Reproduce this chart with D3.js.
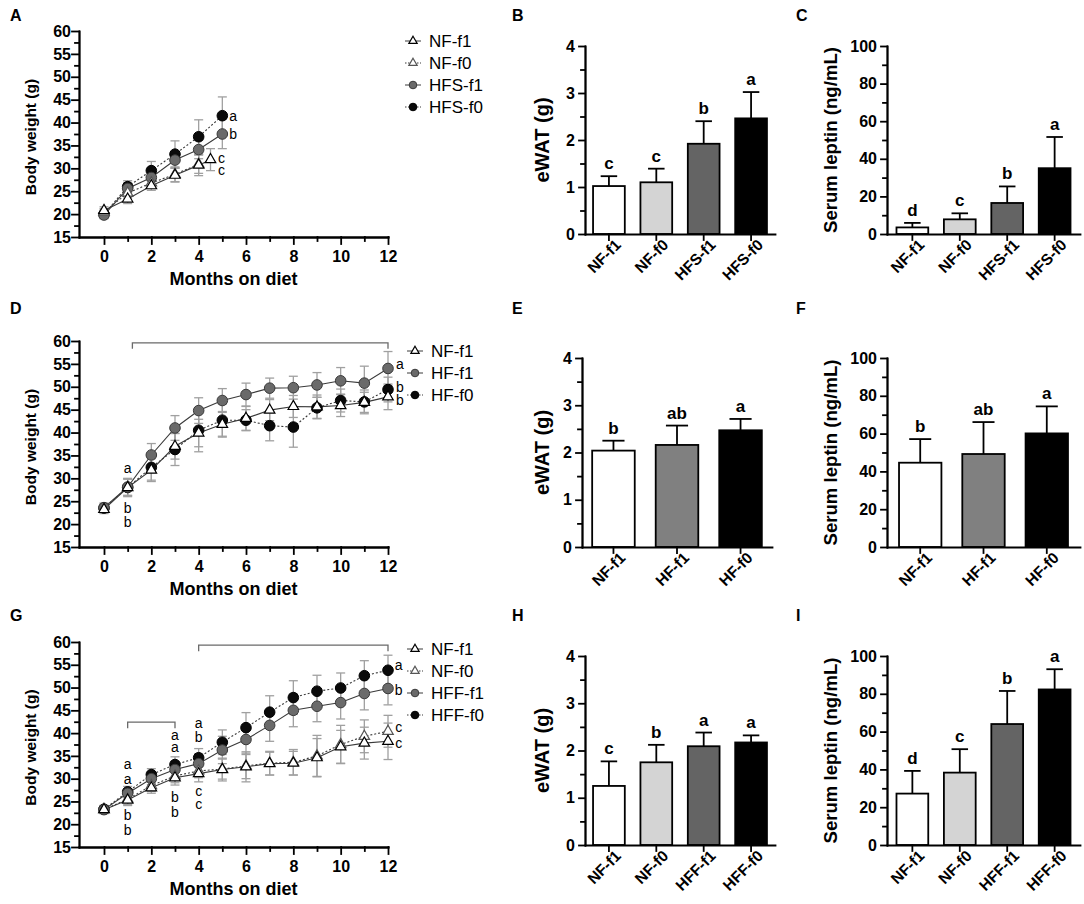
<!DOCTYPE html>
<html>
<head>
<meta charset="utf-8">
<script src="https://cdn.jsdelivr.net/npm/d3@7"></script>
<style>
body { margin: 0; background: #fff; }
svg text { font-family: "Liberation Sans", Arial, sans-serif; fill: #000; }
</style>
</head>
<body>
<script>
// ---------- data ----------
const monthsFull = [0, 1, 2, 3, 4, 5, 6, 7, 8, 9, 10, 11, 12];
const monthsA = [0, 1, 2, 3, 4, 5];
const monthsA_NF1 = [0, 1, 2, 3, 4, 4.5];
const monthsA_NF0 = [0, 1, 2, 3, 4];

// panel A (HFS study)
const aNF1 = [20.8, 23.3, 26.2, 28.5, 30.7, 31.9];
const aNF1Sd = [0.8, 1.0, 1.0, 1.5, 2.3, 2.4];
const aNF0 = [20.5, 24.6, 26.8, 28.7, 30.9];
const aNF0Sd = [0.7, 1.1, 1.0, 1.6, 2.0];
const aHFS1 = [19.8, 25.6, 28.0, 31.8, 34.1, 37.5];
const aHFS1Sd = [0.8, 1.3, 1.7, 1.8, 2.0, 3.2];
const aHFS0 = [20.0, 26.0, 29.5, 33.1, 36.9, 41.5];
const aHFS0Sd = [0.9, 1.3, 2.0, 2.9, 3.7, 4.1];

// panel D (HF study)
const dNF1 = [23.2, 28.0, 31.8, 37.0, 39.9, 41.8, 43.1, 44.9, 45.7, 45.6, 45.9, 46.6, 47.8];
const dNF1Sd = [0.9, 2.0, 2.5, 2.8, 3.0, 2.8, 2.6, 2.3, 2.4, 2.6, 2.4, 2.2, 2.8];
const dHF1 = [23.6, 28.1, 35.1, 41.0, 44.8, 47.0, 48.3, 49.7, 49.8, 50.4, 51.3, 50.8, 54.0];
const dHF1Sd = [1.0, 1.8, 2.5, 2.7, 2.8, 2.6, 2.5, 2.2, 2.5, 2.7, 2.9, 3.7, 3.7];
const dHF0 = [23.5, 28.0, 32.4, 36.3, 40.5, 42.7, 42.7, 41.5, 41.2, 45.4, 47.0, 46.7, 49.4];
const dHF0Sd = [1.0, 1.8, 2.8, 3.5, 4.7, 3.5, 2.3, 3.3, 4.4, 2.3, 2.5, 2.6, 2.7];

// panel G (HFF study)
const gNF1 = [23.2, 25.3, 28.0, 30.2, 31.1, 32.0, 32.6, 33.3, 33.4, 34.6, 37.0, 37.8, 38.2];
const gNF1Sd = [0.8, 1.2, 1.2, 1.6, 1.8, 2.5, 3.3, 2.5, 2.6, 4.2, 3.6, 3.5, 4.0];
const gNF0 = [23.2, 25.5, 28.5, 30.6, 31.7, 32.1, 32.8, 33.4, 33.6, 35.0, 37.5, 39.3, 40.4];
const gNF0Sd = [0.9, 1.2, 1.3, 1.5, 1.5, 2.2, 2.8, 2.6, 2.8, 4.5, 4.2, 3.6, 3.5];
const gHFF1 = [23.2, 26.8, 30.0, 32.0, 33.3, 36.3, 38.6, 41.7, 45.0, 45.9, 46.7, 48.7, 49.8];
const gHFF1Sd = [0.8, 1.0, 1.3, 1.8, 2.2, 3.0, 3.3, 3.5, 3.6, 3.4, 3.6, 3.6, 3.6];
const gHFF0 = [23.3, 27.1, 30.9, 33.1, 34.6, 38.0, 41.2, 44.6, 47.8, 49.2, 49.9, 52.6, 53.8];
const gHFF0Sd = [0.8, 1.2, 1.3, 1.7, 2.0, 2.7, 3.3, 3.6, 3.7, 3.5, 3.3, 3.3, 3.3];

// significance letters on the line charts: [month, grams, letter]
const aLetters = [[5.46, 41.5, "a"], [5.46, 37.5, "b"], [4.97, 32.3, "c"], [4.97, 29.6, "c"]];
const dLetters = [[1, 32.3, "a"], [1, 23.6, "b"], [1, 20.4, "b"],
  [12.5, 54.9, "a"], [12.5, 49.9, "b"], [12.5, 47.1, "b"]];
const gLetters = [[1, 33.1, "a"], [1, 29.9, "a"], [1, 22.0, "b"], [1, 18.8, "b"],
  [3, 39.5, "a"], [3, 37.0, "a"], [3, 26.0, "b"], [3, 22.7, "b"],
  [4, 42.2, "a"], [4, 39.1, "b"], [4, 27.3, "c"], [4, 24.4, "c"],
  [12.45, 54.9, "a"], [12.45, 49.5, "b"], [12.45, 41.3, "c"], [12.45, 37.8, "c"]];

// brackets: [from month, to month, grams]
const dBrackets = [[1.2, 12, 59.6]];
const gBrackets = [[4, 12, 59.3], [1, 3, 42.4]];

// bar charts
const catsHFS = ["NF-f1", "NF-f0", "HFS-f1", "HFS-f0"];
const catsHF = ["NF-f1", "HF-f1", "HF-f0"];
const catsHFF = ["NF-f1", "NF-f0", "HFF-f1", "HFF-f0"];

const bMean = [1.02, 1.10, 1.92, 2.46], bSd = [0.21, 0.29, 0.48, 0.56], bLet = ["c", "c", "b", "a"];
const cMean = [3.5, 7.8, 16.5, 35.0], cSd = [2.4, 3.2, 8.8, 16.6], cLet = ["d", "c", "b", "a"];
const eMean = [2.04, 2.16, 2.47], eSd = [0.21, 0.41, 0.24], eLet = ["b", "ab", "a"];
const fMean = [44.6, 49.2, 60.1], fSd = [12.5, 16.9, 14.3], fLet = ["b", "ab", "a"];
const hMean = [1.25, 1.75, 2.09, 2.17], hSd = [0.52, 0.37, 0.29, 0.15], hLet = ["c", "b", "a", "a"];
const iMean = [27.2, 38.3, 64.0, 82.3], iSd = [12.0, 12.4, 17.5, 10.7], iLet = ["d", "c", "b", "a"];

// ---------- styles ----------
const markerStyle = {
  tri1: {shape: "tri", fill: "#fff", stroke: "#000"},
  tri0: {shape: "tri", fill: "#fff", stroke: "#555"},
  gray: {shape: "circle", fill: "#6a6a6a", stroke: "#3a3a3a"},
  black: {shape: "circle", fill: "#0a0a0a", stroke: "#000"}
};
const fillsFour = ["#ffffff", "#d4d4d4", "#646464", "#000000"];
const fillsThree = ["#ffffff", "#808080", "#000000"];

const svg = d3.select("body").append("svg")
  .attr("width", 1084)
  .attr("height", 904);

function styleAxis(sel, size) {
  sel.selectAll("path, line").attr("stroke", "#000").attr("stroke-width", 1.8)
    .attr("stroke-linecap", "square");
  sel.selectAll("text").attr("font-size", size || 16).attr("font-weight", "bold");
}

function drawMarker(sel, kind, big) {
  const st = markerStyle[kind];
  if (st.shape === "tri") {
    sel.append("path")
      .attr("d", d3.symbol().type(d3.symbolTriangle).size(big ? 48 : 30)())
      .attr("fill", st.fill).attr("stroke", st.stroke).attr("stroke-width", 1.2);
  } else {
    sel.append("circle").attr("r", big ? 5.3 : 3.8)
      .attr("fill", st.fill).attr("stroke", st.stroke).attr("stroke-width", 1);
  }
}

function panelLabel(txt, x, y) {
  svg.append("text").attr("x", x).attr("y", y)
    .attr("font-size", 16).attr("font-weight", "bold").text(txt);
}

function lineChart(box, series, legend, letters, brackets) {
  const x = d3.scaleLinear().domain([-1.056, 12]).range([box.left, box.right]);
  const y = d3.scaleLinear().domain([15, 60]).range([box.bottom, box.top]);
  const g = svg.append("g");

  // error bars
  series.forEach(s => {
    const pts = s.x.map((m, i) => ({m: m, v: s.y[i], sd: s.sd[i]}));
    const eb = g.append("g").attr("stroke", "#a0a0a0").attr("stroke-width", 1.3);
    eb.selectAll(".v").data(pts).join("line")
      .attr("x1", d => x(d.m)).attr("x2", d => x(d.m))
      .attr("y1", d => y(d.v - d.sd)).attr("y2", d => y(d.v + d.sd));
    eb.selectAll(".t").data(pts.concat(pts.map(d => ({m: d.m, v: d.v, sd: -d.sd})))).join("line")
      .attr("x1", d => x(d.m) - 4.5).attr("x2", d => x(d.m) + 4.5)
      .attr("y1", d => y(d.v + d.sd)).attr("y2", d => y(d.v + d.sd));
  });

  // lines
  const line = d3.line().x(d => x(d[0])).y(d => y(d[1]));
  series.forEach(s => {
    g.append("path")
      .datum(s.x.map((m, i) => [m, s.y[i]]))
      .attr("d", line)
      .attr("fill", "none")
      .attr("stroke", "#3a3a3a")
      .attr("stroke-width", 1.1)
      .attr("stroke-dasharray", s.dotted ? "2,2" : null);
  });

  // markers
  series.forEach(s => {
    s.x.forEach((m, i) => {
      const mk = g.append("g").attr("transform", `translate(${x(m)},${y(s.y[i])})`);
      drawMarker(mk, s.kind, true);
    });
  });

  // axes
  const xa = g.append("g").attr("transform", `translate(0,${box.bottom})`);
  xa.call(d3.axisBottom(x).tickValues(d3.range(1, 12, 2)).tickSize(4).tickFormat("").tickSizeOuter(0));
  const xb = g.append("g").attr("transform", `translate(0,${box.bottom})`);
  xb.call(d3.axisBottom(x).tickValues(d3.range(0, 13, 2)).tickSize(7).tickSizeOuter(0));
  xb.selectAll("text").attr("y", 14);
  styleAxis(xa); styleAxis(xb);

  const ya = g.append("g").attr("transform", `translate(${box.left},0)`);
  ya.call(d3.axisLeft(y).tickValues(d3.range(17.5, 60, 5)).tickSize(4).tickFormat("").tickSizeOuter(0));
  const yb = g.append("g").attr("transform", `translate(${box.left},0)`);
  yb.call(d3.axisLeft(y).tickValues(d3.range(15, 61, 5)).tickSize(7).tickSizeOuter(0));
  yb.selectAll("text").attr("x", -8);
  styleAxis(ya); styleAxis(yb);

  g.append("text")
    .attr("x", (box.left + box.right) / 2).attr("y", box.bottom + 48)
    .attr("text-anchor", "middle").attr("font-size", 18).attr("font-weight", "bold")
    .text("Months on diet");
  g.append("text")
    .attr("transform", `translate(30.5,${(box.top + box.bottom) / 2 + 3}) rotate(-90)`)
    .attr("dy", "0.35em")
    .attr("text-anchor", "middle").attr("font-size", 15.5).attr("font-weight", "bold")
    .text("Body weight (g)");

  // letters
  g.selectAll(".let").data(letters).join("text")
    .attr("x", d => x(d[0])).attr("y", d => y(d[1]))
    .attr("dy", "0.35em").attr("text-anchor", "middle").attr("font-size", 14)
    .text(d => d[2]);

  // brackets
  brackets.forEach(b => {
    const p = d3.path();
    p.moveTo(x(b[0]), y(b[2]) + 6);
    p.lineTo(x(b[0]), y(b[2]));
    p.lineTo(x(b[1]), y(b[2]));
    p.lineTo(x(b[1]), y(b[2]) + 6);
    g.append("path").attr("d", p.toString()).attr("fill", "none")
      .attr("stroke", "#6a6a6a").attr("stroke-width", 1.3);
  });

  // legend
  legend.items.forEach((it, i) => {
    const ly = legend.ys[i];
    const lg = g.append("g").attr("transform", `translate(${legend.x},${ly})`);
    lg.append("line").attr("x1", -8).attr("x2", 8)
      .attr("stroke", "#3a3a3a").attr("stroke-width", 1)
      .attr("stroke-dasharray", it.dotted ? "1.5,1.5" : null);
    drawMarker(lg, it.kind, false);
    lg.append("text").attr("x", 16).attr("dy", "0.36em")
      .attr("font-size", 17).text(it.name);
  });
}

function barChart(box, cats, means, sds, letters, fills) {
  const x = d3.scaleBand().domain(cats).range([box.left, box.right])
    .paddingInner(0.33).paddingOuter(box.outer);
  const y = d3.scaleLinear().domain([0, box.max]).range([box.bottom, box.top]);
  const g = svg.append("g");
  const rows = cats.map((c, i) => ({c: c, m: means[i], sd: sds[i], l: letters[i], f: fills[i]}));
  const bw = x.bandwidth();

  // error bars (upper only)
  g.selectAll(".ev").data(rows).join("line")
    .attr("x1", d => x(d.c) + bw / 2).attr("x2", d => x(d.c) + bw / 2)
    .attr("y1", d => y(d.m)).attr("y2", d => y(d.m + d.sd))
    .attr("stroke", "#000").attr("stroke-width", 1.8);
  g.selectAll(".ec").data(rows).join("line")
    .attr("x1", d => x(d.c) + bw * 0.24).attr("x2", d => x(d.c) + bw * 0.76)
    .attr("y1", d => y(d.m + d.sd)).attr("y2", d => y(d.m + d.sd))
    .attr("stroke", "#000").attr("stroke-width", 1.8);

  g.selectAll(".bar").data(rows).join("rect")
    .attr("x", d => x(d.c)).attr("width", bw)
    .attr("y", d => y(d.m)).attr("height", d => y(0) - y(d.m))
    .attr("fill", d => d.f).attr("stroke", "#000").attr("stroke-width", 1.8);

  g.selectAll(".lt").data(rows).join("text")
    .attr("x", d => x(d.c) + bw / 2).attr("y", d => y(d.m + d.sd) - 7)
    .attr("text-anchor", "middle").attr("font-size", 17).attr("font-weight", "bold")
    .text(d => d.l);

  const xa = g.append("g").attr("transform", `translate(0,${box.bottom})`);
  xa.call(d3.axisBottom(x).tickSize(6).tickSizeOuter(0));
  styleAxis(xa, 15.5);
  xa.selectAll("text")
    .attr("y", 0).attr("x", 0).attr("dy", 0)
    .attr("transform", "translate(13,12) rotate(-45)")
    .attr("text-anchor", "end");

  const ya = g.append("g").attr("transform", `translate(${box.left},0)`);
  ya.call(d3.axisLeft(y).tickValues(box.minor).tickSize(4).tickFormat("").tickSizeOuter(0));
  const yb = g.append("g").attr("transform", `translate(${box.left},0)`);
  yb.call(d3.axisLeft(y).tickValues(box.major).tickFormat(d3.format("d")).tickSize(6).tickSizeOuter(0));
  yb.selectAll("text").attr("x", -10);
  styleAxis(ya); styleAxis(yb);

  g.append("text")
    .attr("transform", `translate(${box.labelX},${(box.top + box.bottom) / 2}) rotate(-90)`)
    .attr("dy", "0.35em").attr("text-anchor", "middle")
    .attr("font-size", box.labelSize).attr("font-weight", "bold")
    .text(box.label);
}

// ---------- layout ----------
const legendHFS = [
  {name: "NF-f1", kind: "tri1", dotted: false},
  {name: "NF-f0", kind: "tri0", dotted: true},
  {name: "HFS-f1", kind: "gray", dotted: false},
  {name: "HFS-f0", kind: "black", dotted: true}
];
const legendHF = [
  {name: "NF-f1", kind: "tri1", dotted: false},
  {name: "HF-f1", kind: "gray", dotted: false},
  {name: "HF-f0", kind: "black", dotted: true}
];
const legendHFF = [
  {name: "NF-f1", kind: "tri1", dotted: false},
  {name: "NF-f0", kind: "tri0", dotted: true},
  {name: "HFF-f1", kind: "gray", dotted: false},
  {name: "HFF-f0", kind: "black", dotted: true}
];

lineChart({left: 79, right: 388, top: 31, bottom: 237}, [
  {kind: "black", dotted: true, x: monthsA, y: aHFS0, sd: aHFS0Sd},
  {kind: "gray", dotted: false, x: monthsA, y: aHFS1, sd: aHFS1Sd},
  {kind: "tri0", dotted: true, x: monthsA_NF0, y: aNF0, sd: aNF0Sd},
  {kind: "tri1", dotted: false, x: monthsA_NF1, y: aNF1, sd: aNF1Sd}
], {x: 413, ys: [41, 63, 85, 107], items: legendHFS}, aLetters, []);

lineChart({left: 79, right: 388, top: 341, bottom: 547}, [
  {kind: "black", dotted: true, x: monthsFull, y: dHF0, sd: dHF0Sd},
  {kind: "gray", dotted: false, x: monthsFull, y: dHF1, sd: dHF1Sd},
  {kind: "tri1", dotted: false, x: monthsFull, y: dNF1, sd: dNF1Sd}
], {x: 415, ys: [351, 373, 395], items: legendHF}, dLetters, dBrackets);

lineChart({left: 79, right: 388, top: 642, bottom: 847}, [
  {kind: "black", dotted: true, x: monthsFull, y: gHFF0, sd: gHFF0Sd},
  {kind: "gray", dotted: false, x: monthsFull, y: gHFF1, sd: gHFF1Sd},
  {kind: "tri0", dotted: true, x: monthsFull, y: gNF0, sd: gNF0Sd},
  {kind: "tri1", dotted: false, x: monthsFull, y: gNF1, sd: gNF1Sd}
], {x: 415, ys: [649, 671, 693, 715], items: legendHFF}, gLetters, gBrackets);

const watTicks = {max: 4, major: [0, 1, 2, 3, 4], minor: [0.5, 1.5, 2.5, 3.5], label: "eWAT (g)", labelSize: 20, labelX: 542};
const lepTicks = {max: 100, major: [0, 20, 40, 60, 80, 100], minor: [10, 30, 50, 70, 90], label: "Serum leptin (ng/mL)", labelSize: 18.6, labelX: 830};

barChart(Object.assign({left: 585, right: 775, top: 46, bottom: 234, outer: 0.17}, watTicks), catsHFS, bMean, bSd, bLet, fillsFour);
barChart(Object.assign({left: 887, right: 1080, top: 46, bottom: 234, outer: 0.2}, lepTicks), catsHFS, cMean, cSd, cLet, fillsFour);
barChart(Object.assign({left: 582, right: 772, top: 358, bottom: 547, outer: 0.16}, watTicks), catsHF, eMean, eSd, eLet, fillsThree);
barChart(Object.assign({left: 887, right: 1080, top: 358, bottom: 547, outer: 0.19}, lepTicks), catsHF, fMean, fSd, fLet, fillsThree);
barChart(Object.assign({left: 585, right: 775, top: 656, bottom: 845, outer: 0.17}, watTicks), catsHFF, hMean, hSd, hLet, fillsFour);
barChart(Object.assign({left: 887, right: 1080, top: 656, bottom: 845, outer: 0.2}, lepTicks), catsHFF, iMean, iSd, iLet, fillsFour);

panelLabel("A", 10, 21);
panelLabel("B", 512, 21);
panelLabel("C", 796, 21);
panelLabel("D", 10, 314);
panelLabel("E", 512, 314);
panelLabel("F", 796, 314);
panelLabel("G", 10, 621);
panelLabel("H", 512, 621);
panelLabel("I", 796, 621);
</script>
</body>
</html>
